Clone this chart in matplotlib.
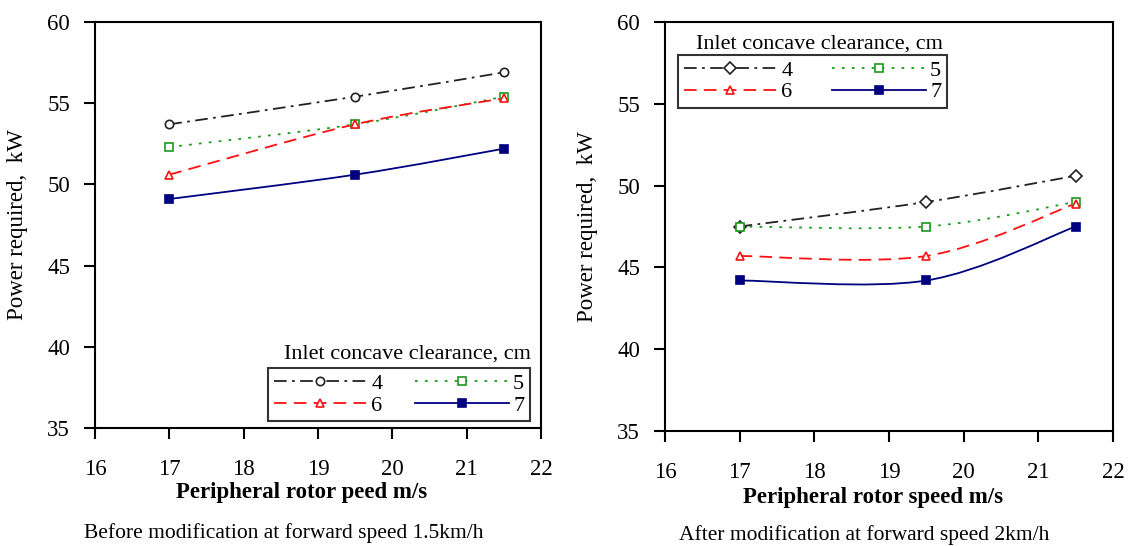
import matplotlib
matplotlib.use("Agg")
import matplotlib.pyplot as plt
import numpy as np
from matplotlib.path import Path
from matplotlib.patches import PathPatch
from matplotlib.lines import Line2D

plt.rcParams['font.family'] = ['Liberation Serif', 'DejaVu Serif']

speed = [17, 19.5, 21.5]
clearance = ['4', '5', '6', '7']

# before modification, forward speed 1.5 km/h
before = {
    '4': [53.7, 55.4, 56.9],
    '5': [52.3, 53.7, 55.4],
    '6': [50.6, 53.7, 55.3],
    '7': [49.1, 50.6, 52.2],
}
# after modification, forward speed 2 km/h
after = {
    '4': [47.5, 49.0, 50.6],
    '5': [47.5, 47.5, 49.0],
    '6': [45.7, 45.7, 48.9],
    '7': [44.2, 44.2, 47.5],
}

colors = {'4': '#222222', '5': '#1a9a1a', '6': '#ff1010', '7': '#000080'}
dashes = {'4': (0, (7, 3, 1.5, 3)), '5': (0, (1.5, 4)), '6': (0, (7, 4)), '7': '-'}


def smooth_path(x, y):
    # excel-like smoothed line: cubic bezier through the points
    pts = np.column_stack([x, y]).astype(float)
    ext = np.vstack([pts[0], pts, pts[-1]])
    verts = [pts[0]]
    codes = [Path.MOVETO]
    for i in range(len(pts) - 1):
        p0, p1, p2, p3 = ext[i], ext[i + 1], ext[i + 2], ext[i + 3]
        verts += [p1 + (p2 - p0) / 6, p2 - (p3 - p1) / 6, p2]
        codes += [Path.CURVE4] * 3
    return Path(verts, codes)


def draw(ax, data, markers, xlabel, caption, leg_box, title_xy, title_ha,
         xlab_xy, cap_xy):
    handles = {}
    for c in clearance:
        col = colors[c]
        ax.add_patch(PathPatch(smooth_path(speed, data[c]), fill=False,
                               edgecolor=col, linestyle=dashes[c], lw=1.3))
        mk, filled = markers[c]
        ax.plot(speed, data[c], linestyle='none', marker=mk, ms=6,
                mec=col, mfc=col if filled else 'white', mew=1.2, zorder=3)
        handles[c] = Line2D([], [], color=col, linestyle=dashes[c], lw=1.3,
                            marker=mk, ms=6, mec=col,
                            mfc=col if filled else 'white', mew=1.2)
    order = ['4', '6', '5', '7']
    leg = ax.legend([handles[c] for c in order], order, ncol=2,
                    loc='lower left', bbox_to_anchor=leg_box, mode='expand',
                    frameon=True, fancybox=False, edgecolor='black',
                    fontsize=16, handlelength=4.2, handletextpad=0.2,
                    labelspacing=0.05, borderpad=0.25, borderaxespad=0,
                    columnspacing=1.5)
    leg.get_frame().set_linewidth(1.5)
    ax.text(title_xy[0], title_xy[1], 'Inlet concave clearance, cm',
            transform=ax.transAxes, ha=title_ha, va='center', fontsize=16)

    ax.set_xlim(16, 22)
    ax.set_ylim(35, 60)
    ax.set_xticks(range(16, 23))
    ax.set_yticks(range(35, 61, 5))
    ax.tick_params(axis='both', direction='out', length=8, width=1.5,
                   labelsize=16.5, top=False, right=False)
    ax.tick_params(axis='x', pad=14)
    ax.tick_params(axis='y', pad=10)
    for s in ax.spines.values():
        s.set_linewidth(1.5)
    ax.set_xlabel(xlabel, fontsize=16.5, fontweight='bold')
    ax.xaxis.set_label_coords(*xlab_xy)
    ax.set_ylabel('Power required,  kW', fontsize=16.5, labelpad=14)
    ax.text(cap_xy[0], cap_xy[1], caption, transform=ax.transAxes,
            ha='center', va='center', fontsize=15.5)


fig = plt.figure(figsize=(11.28, 5.46), dpi=100)
ax1 = fig.add_axes([0.0842, 0.2161, 0.3954, 0.7436])
ax2 = fig.add_axes([0.5895, 0.2106, 0.3972, 0.7491])

draw(ax1, before,
     {'4': ('o', False), '5': ('s', False), '6': ('^', False), '7': ('s', True)},
     'Peripheral rotor peed m/s', 'Before modification at forward speed 1.5km/h',
     (0.388, 0.017, 0.587, 0.12), (0.70, 0.182), 'center',
     (0.464, -0.132), (0.424, -0.259))
draw(ax2, after,
     {'4': ('D', False), '5': ('s', False), '6': ('^', False), '7': ('s', True)},
     'Peripheral rotor speed m/s', 'After modification at forward speed 2km/h',
     (0.029, 0.79, 0.60, 0.117), (0.07, 0.946), 'left',
     (0.464, -0.137), (0.444, -0.254))

fig.savefig('out.png', dpi=100)
